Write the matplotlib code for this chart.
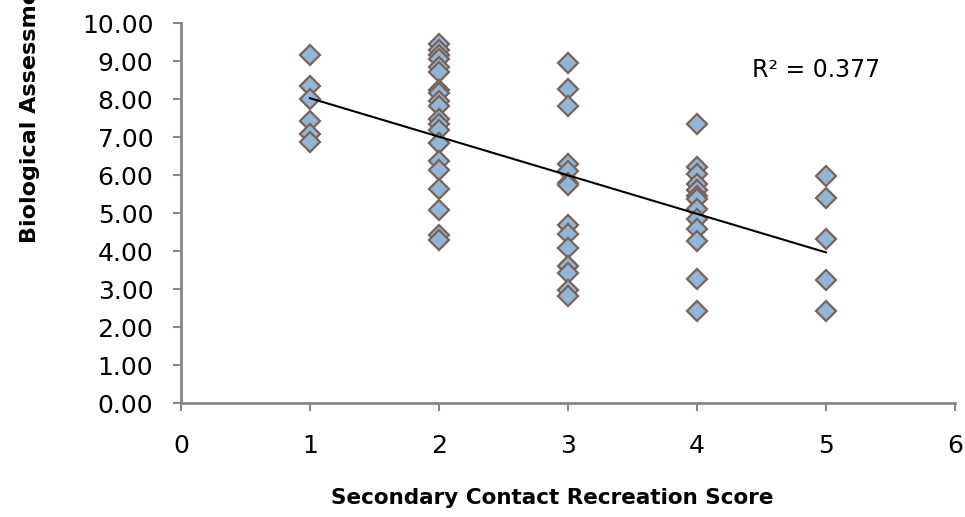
import matplotlib
matplotlib.use('Agg')
import matplotlib.pyplot as plt
import numpy as np

# values, one list per recreation score
score_1 = [9.15, 8.33, 8.0, 7.42, 7.08, 6.86]
score_2 = [9.45, 9.28, 9.15, 9.05, 8.85, 8.72, 8.25, 8.15, 7.95, 7.82,
           7.48, 7.35, 7.18, 6.85, 6.83, 6.38, 6.12, 5.63, 5.08, 4.42, 4.3]
score_3 = [8.95, 8.27, 7.82, 6.3, 6.1, 5.8, 5.75, 4.68, 4.45, 4.08,
           3.6, 3.42, 2.97, 2.82]
score_4 = [7.35, 6.22, 6.02, 5.76, 5.6, 5.45, 5.36, 5.1, 4.84, 4.57,
           4.27, 3.26, 2.41]
score_5 = [5.97, 5.4, 4.31, 3.24, 2.43]

groups = [score_1, score_2, score_3, score_4, score_5]
x = []
y = []
for i, g in enumerate(groups):
    x += [i + 1] * len(g)
    y += g
x = np.array(x, dtype=float)
y = np.array(y)

r2_label = 'R² = 0.377'

fig = plt.figure(figsize=(9.65, 5.17), dpi=100)
ax = fig.add_axes([0.1876, 0.2205, 0.802, 0.735])

ax.plot(x, y, 'D', markersize=10, markerfacecolor='#93b5d6',
        markeredgecolor='#7b6259', markeredgewidth=1.6, zorder=3)

# linear trend over the data range
slope, inter = np.polyfit(x, y, 1)
xf = np.array([x.min(), x.max()])
ax.plot(xf, slope * xf + inter, color='black', linewidth=1.5, zorder=4)

ax.set_xlim(0, 6)
ax.set_ylim(0, 10)
ax.set_xticks(range(0, 7))
ax.set_yticks(np.arange(0, 11, 1))
ax.set_yticklabels(['%.2f' % v for v in np.arange(0, 11, 1)])

for s in ['top', 'right']:
    ax.spines[s].set_visible(False)
for s in ['left', 'bottom']:
    ax.spines[s].set_color('#868686')
    ax.spines[s].set_linewidth(2)

ax.tick_params(axis='both', direction='out', length=6, width=1.5,
               color='#868686', labelsize=18)
ax.tick_params(axis='x', pad=16)
ax.tick_params(axis='y', pad=14)

ax.text(4.43, 8.76, r2_label, fontsize=17, va='center', ha='left')

fig.text(552 / 965, (517 - 498) / 517, 'Secondary Contact Recreation Score',
         fontsize=15.5, fontweight='bold', ha='center', va='center')
fig.text(30 / 965, (517 - 243) / 517, 'Biological Assessment Score',
         fontsize=16, fontweight='bold', rotation=90, ha='center', va='bottom')

fig.savefig('out.png', dpi=100)
